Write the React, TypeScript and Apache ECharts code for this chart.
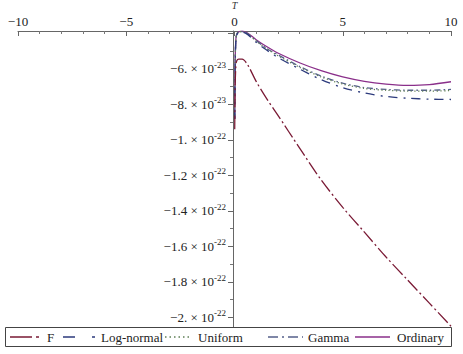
import React, { useEffect, useRef } from "react";
import * as echarts from "echarts";

// Temperature samples (T axis)
const tValues = [0.01, 0.03, 0.06, 0.1, 0.2, 0.35, 0.6, 1, 1.5, 2, 3, 4, 5, 6, 7, 8, 9, 10];

// Series values, in units of 1e-23
const fValues = [-9.4, -7.0, -5.9, -5.55, -5.45, -5.45, -5.75, -6.7, -7.7, -8.6, -10.45, -12.25, -13.8, -15.2, -16.6, -17.9, -19.2, -20.5];
const logNormalValues = [-8.8, -5.7, -4.5, -4.1, -3.93, -3.92, -4.05, -4.5, -4.95, -5.35, -6.0, -6.6, -7.05, -7.35, -7.55, -7.65, -7.7, -7.72];
const uniformValues = [-8.8, -5.65, -4.45, -4.07, -3.91, -3.9, -4.02, -4.42, -4.87, -5.25, -5.9, -6.45, -6.85, -7.1, -7.2, -7.25, -7.25, -7.22];
const gammaValues = [-8.8, -5.65, -4.45, -4.07, -3.91, -3.9, -4.01, -4.4, -4.85, -5.2, -5.85, -6.4, -6.8, -7.05, -7.15, -7.2, -7.2, -7.15];
const ordinaryValues = [-8.8, -5.6, -4.4, -4.05, -3.9, -3.87, -3.97, -4.35, -4.75, -5.1, -5.65, -6.1, -6.45, -6.7, -6.85, -6.92, -6.88, -6.72];

const seriesNames = ["F", "Log-normal", "Uniform", "Gamma", "Ordinary"];
const seriesColors = ["#7a1a35", "#2c3a7c", "#5f7f55", "#55608a", "#8a2f8a"];

// Tick labels
const xTickValues = [-10, -5, 0, 5, 10];
const xTickLabels = ["\u221210", "\u22125", "0", "5", "10"];
const yTickValues = [-6, -8, -10, -12, -14, -16, -18, -20];
const yTickMantissas = ["\u22126.", "\u22128.", "\u22121.", "\u22121.2", "\u22121.4", "\u22121.6", "\u22121.8", "\u22122."];
const yTickExponents = ["-23", "-23", "-22", "-22", "-22", "-22", "-22", "-22"];

const FONT = "'Liberation Serif', 'Times New Roman', serif";

export default function App() {
  const ref = useRef<HTMLDivElement>(null);
  useEffect(() => {
    if (!ref.current) return;
    const chart = echarts.init(ref.current, null, { renderer: "svg" });
    const allValues = [fValues, logNormalValues, uniformValues, gammaValues, ordinaryValues];
    const dashes: any[] = [
      [14, 3, 2, 3],
      [9, 6, 2, 6],
      [1.2, 2.5],
      [6, 3, 1.5, 3],
      "solid",
    ];
    const legendDashes: any[] = [
      [22, 4, 3, 20],
      [12, 17, 3, 20],
      [1.5, 3],
      [10, 4, 2, 4],
      null,
    ];
    const legendSample = [
      [10, 42],
      [63, 96],
      [165, 192],
      [268, 303],
      [355, 390],
    ];
    const legendTextX = [47, 101, 198, 308, 397];
    const series = seriesNames.map((name, i) => ({
      name,
      type: "line",
      data: tValues.map((t, j) => [t, allValues[i][j]]),
      showSymbol: false,
      symbol: "none",
      smooth: 0.3,
      lineStyle: { color: seriesColors[i], width: 1.3, type: dashes[i] },
      itemStyle: { color: seriesColors[i] },
      z: 10 - i,
    }));
    const legendY = 337;
    const graphic: any[] = [
      {
        type: "rect",
        shape: { x: 5.5, y: 327.5, width: 446, height: 19 },
        style: { fill: "#fff", stroke: "#444", lineWidth: 1 },
        z: 50,
      },
    ];
    seriesNames.forEach((name, i) => {
      graphic.push({
        type: "line",
        shape: { x1: legendSample[i][0], y1: legendY, x2: legendSample[i][1], y2: legendY },
        style: {
          stroke: seriesColors[i],
          lineWidth: 1.3,
          lineDash: legendDashes[i] || undefined,
        },
        z: 51,
      });
      graphic.push({
        type: "text",
        x: legendTextX[i],
        y: legendY,
        style: {
          text: name,
          fontFamily: FONT,
          fontSize: 13,
          fill: "#222",
          verticalAlign: "middle",
        },
        z: 51,
      });
    });
    const gridLeft = 18;
    const gridWidth = 433;
    chart.setOption({
      animation: false,
      backgroundColor: "#ffffff",
      grid: { left: gridLeft, width: gridWidth, top: 31, bottom: 26, containLabel: false, outerBoundsMode: "none" },
      xAxis: {
        type: "value",
        position: "top",
        min: -10,
        max: 10,
        interval: 5,
        name: "T",
        nameLocation: "middle",
        nameGap: 16,
        nameTextStyle: { fontFamily: FONT, fontStyle: "italic", fontSize: 10, color: "#333" },
        axisLine: { onZero: false, lineStyle: { color: "#666", width: 1 } },
        axisTick: { show: true, inside: true, length: 5, lineStyle: { color: "#666" } },
        minorTick: { show: true, splitNumber: 5, length: 3, lineStyle: { color: "#777" } },
        splitLine: { show: false },
        axisLabel: {
          fontFamily: FONT,
          fontSize: 13,
          color: "#222",
          margin: 3,
          formatter: (v: number) => {
            const k = xTickValues.indexOf(v);
            return k >= 0 ? xTickLabels[k] : "";
          },
        },
      },
      yAxis: {
        type: "value",
        position: "left",
        offset: -(gridWidth / 2) + 1.5,
        min: -20.6,
        max: -3.86,
        minInterval: 2,
        maxInterval: 2,
        axisLine: { onZero: false, lineStyle: { color: "#666", width: 1 } },
        axisTick: { show: true, inside: false, length: 5, lineStyle: { color: "#666" } },
        minorTick: { show: true, splitNumber: 2, length: 3, lineStyle: { color: "#777" } },
        splitLine: { show: false },
        axisLabel: {
          showMinLabel: false,
          showMaxLabel: false,
          margin: 7,
          fontFamily: FONT,
          color: "#222",
          formatter: (v: number) => {
            const k = yTickValues.findIndex((y) => Math.abs(y - v) < 1e-6);
            if (k < 0) return "";
            return `{m|${yTickMantissas[k]} \u00d7 10}{s|${yTickExponents[k]}}`;
          },
          rich: {
            m: { fontFamily: FONT, fontSize: 13, color: "#222" },
            s: { fontFamily: FONT, fontSize: 9, color: "#222", padding: [0, 0, 8, 0] },
          },
        },
      },
      graphic,
      series,
    });
    return () => chart.dispose();
  }, []);
  return (
    <div
      ref={ref}
      style={{ position: "fixed", left: 0, top: 0, width: 463, height: 354 }}
    />
  );
}
